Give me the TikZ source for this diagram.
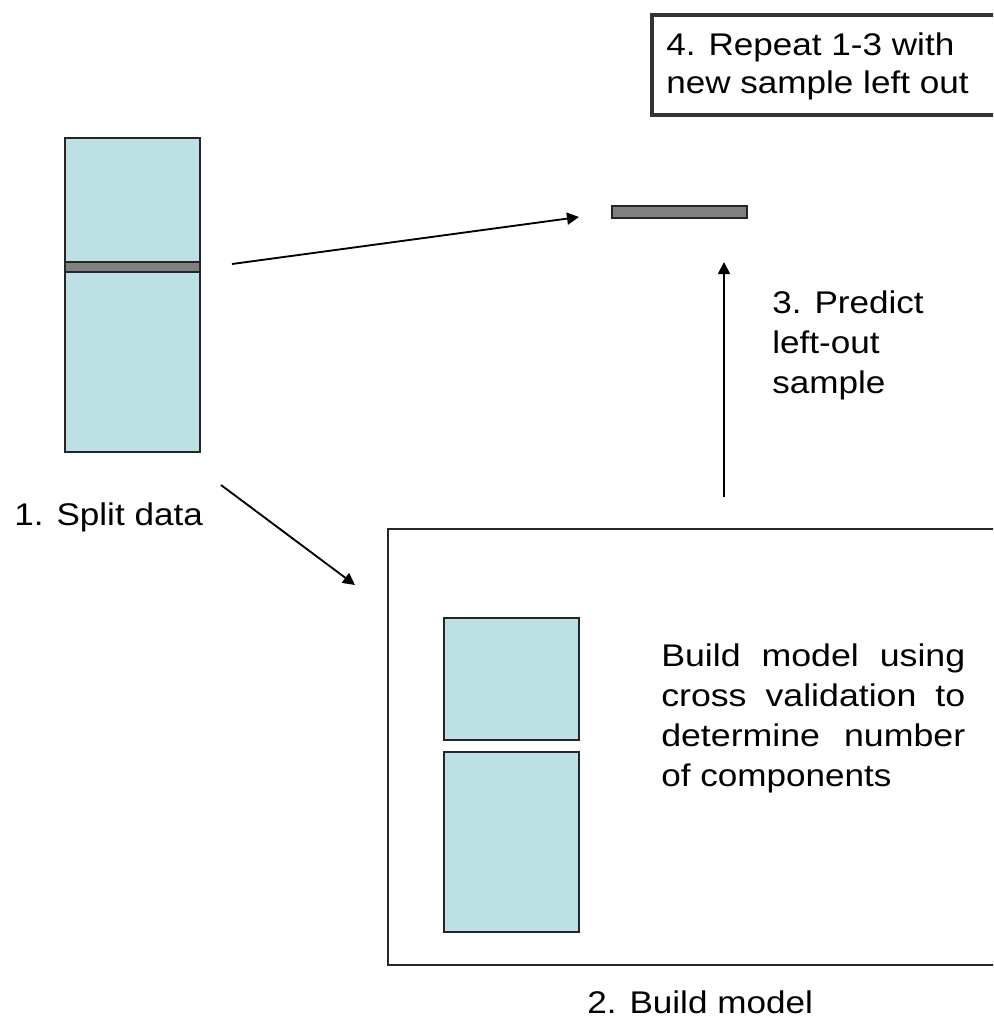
\documentclass[tikz,border=0pt]{standalone}
\usepackage{fontspec}
\setmainfont{Liberation Sans}
\usetikzlibrary{arrows.meta,fit}
\definecolor{datablue}{RGB}{188,224,227}
\definecolor{bargray}{RGB}{128,128,128}
\definecolor{edgecol}{RGB}{38,38,38}
\newcommand{\sx}[1]{\scalebox{1.12}[1.0]{#1}}
\newcommand{\jl}[1]{\scalebox{1.14}[1.0]{\makebox[200pt][s]{#1}}}
\tikzset{
  lbl/.style={inner sep=0pt, anchor=base west, font=\fontsize{23.5pt}{30pt}\selectfont},
  bluebox/.style={draw=edgecol, fill=datablue, line width=1.3pt, inner sep=0pt},
  graybar/.style={draw=edgecol, fill=bargray, line width=1.3pt, inner sep=0pt},
  frame/.style={draw=edgecol, line width=1.4pt, inner sep=0pt},
  noteframe/.style={draw=black!80, line width=3pt, inner sep=0pt},
  conn/.style={line width=1.4pt, -{Triangle[length=9pt,width=9pt]}}
}
\begin{document}
\begin{tikzpicture}[x=0.75pt,y=-0.75pt]
\useasboundingbox (0,0) rectangle (993,1018);
\clip (0,0) rectangle (993,1018);
% step 4 note box
\node[noteframe, fit={(652,15) (1010,115)}] (note) {};
\node[lbl] (n1) at (666,55) {\sx{4. Repeat 1-3 with}};
\node[lbl] (n2) at (666,93) {\sx{new sample left out}};
% full data column
\node[bluebox, fit={(65,138) (200,452)}] (data) {};
\node[graybar, fit={(65,262) (200,272)}] (band) {};
\node[lbl] (split) at (14,525) {\sx{1. Split data}};
% left-out sample
\node[graybar, fit={(612,206) (747,218)}] (left) {};
% model box
\node[frame, fit={(388,529) (1010,965)}] (model) {};
\node[bluebox, fit={(444,618) (579,740)}] (cvA) {};
\node[bluebox, fit={(444,752) (579,932)}] (cvB) {};
\node[lbl] (b1) at (661,666) {\jl{Build model using}};
\node[lbl] (b2) at (661,706) {\jl{cross validation to}};
\node[lbl] (b3) at (661,746) {\jl{determine number}};
\node[lbl] (b4) at (661,786) {\sx{of components}};
\node[lbl] (build) at (587,1013) {\sx{2. Build model}};
% predict label
\node[lbl] (p1) at (772,313) {\sx{3. Predict}};
\node[lbl] (p2) at (772,353) {\sx{left-out}};
\node[lbl] (p3) at (772,393) {\sx{sample}};
% connectors
\coordinate (a1s) at (232,264);
\coordinate (a1e) at (579,217);
\coordinate (a2s) at (221,485);
\coordinate (a2e) at (355,585);
\coordinate (a3s) at (724,497);
\coordinate (a3e) at (724,262);
\draw[conn] (a1s) -- (a1e);
\draw[conn] (a2s) -- (a2e);
\draw[conn] (a3s) -- (a3e);
\end{tikzpicture}
\end{document}
